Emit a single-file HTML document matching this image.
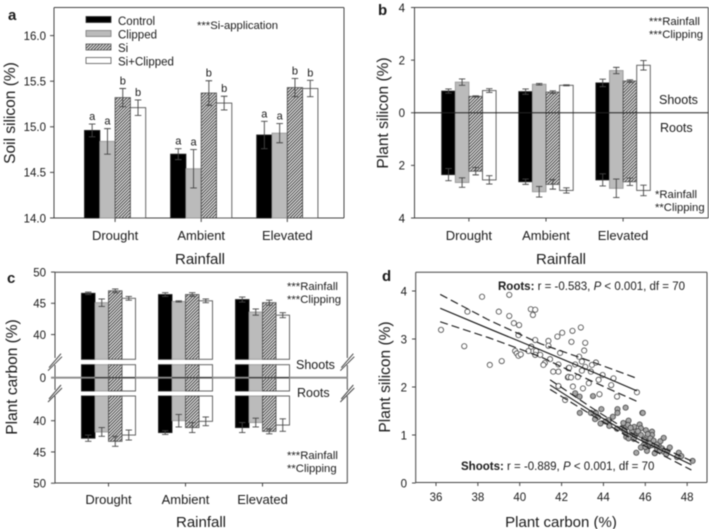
<!DOCTYPE html>
<html>
<head>
<meta charset="utf-8">
<style>
html,body{margin:0;padding:0;background:#fff;width:709px;height:529px;overflow:hidden}
svg{display:block;filter:blur(0.4px)}
text{font-family:"Liberation Sans",sans-serif;fill:#1a1a1a}
</style>
</head>
<body>
<svg id="fig" width="709" height="529" viewBox="0 0 709 529" xmlns="http://www.w3.org/2000/svg">
<defs>
<pattern id="hatch" patternUnits="userSpaceOnUse" width="2.2" height="2.2" patternTransform="rotate(45)">
<rect width="2.2" height="2.2" fill="#e6e6e6"/>
<rect width="0.9" height="2.2" fill="#333"/>
</pattern>
</defs>

<g>
<text x="8" y="20" font-size="15" font-weight="bold">a</text>
<text transform="translate(15 113) rotate(-90)" font-size="15.5" text-anchor="middle">Soil silicon (%)</text>
<text x="200" y="264" font-size="15" text-anchor="middle">Rainfall</text>
<text x="197" y="29" font-size="11.3">***Si-application</text>
<g>
<rect x="86" y="16.5" width="25" height="6" fill="#000" stroke="#333" stroke-width=".8"/>
<text x="118" y="25" font-size="11.5">Control</text>
<rect x="86" y="30.5" width="25" height="6" fill="#bbb" stroke="#777" stroke-width=".8"/>
<text x="118" y="38.5" font-size="11.5">Clipped</text>
<rect x="86" y="44" width="25" height="6" fill="url(#hatch)" stroke="#555" stroke-width=".8"/>
<text x="118" y="52" font-size="11.5">Si</text>
<rect x="86" y="57.5" width="25" height="6" fill="#fff" stroke="#555" stroke-width=".8"/>
<text x="118" y="65.5" font-size="11.5">Si+Clipped</text>
</g>
</g>

<g>
<text x="378" y="15" font-size="15" font-weight="bold">b</text>
<text transform="translate(388 113) rotate(-90)" font-size="15.5" text-anchor="middle">Plant silicon (%)</text>
<text x="561" y="264" font-size="15" text-anchor="middle">Rainfall</text>
<text x="649" y="25" font-size="11.3">***Rainfall</text>
<text x="649" y="38" font-size="11.3">***Clipping</text>
<text x="655" y="198" font-size="11.3">*Rainfall</text>
<text x="655" y="211" font-size="11.3">**Clipping</text>
<text x="659" y="104" font-size="12.5">Shoots</text>
<text x="660" y="132" font-size="12.5">Roots</text>
</g>

<g>
<text x="7" y="283" font-size="15" font-weight="bold">c</text>
<text transform="translate(17 377) rotate(-90)" font-size="15.5" text-anchor="middle">Plant carbon (%)</text>
<text x="201" y="527" font-size="15" text-anchor="middle">Rainfall</text>
<text x="287" y="290" font-size="11.3">***Rainfall</text>
<text x="287" y="303" font-size="11.3">***Clipping</text>
<text x="287" y="459" font-size="11.3">***Rainfall</text>
<text x="287" y="472" font-size="11.3">**Clipping</text>
<text x="296" y="369" font-size="12.5">Shoots</text>
<text x="297" y="397" font-size="12.5">Roots</text>
</g>

<g>
<text x="382" y="281" font-size="15" font-weight="bold">d</text>
<text transform="translate(390 377) rotate(-90)" font-size="15.5" text-anchor="middle">Plant silicon (%)</text>
<text x="561" y="527" font-size="15" text-anchor="middle">Plant carbon (%)</text>
<text x="498" y="290" font-size="11.5"><tspan font-weight="bold">Roots:</tspan> r = -0.583, <tspan font-style="italic">P</tspan> &lt; 0.001, df = 70</text>
<text x="461" y="470" font-size="11.5"><tspan font-weight="bold">Shoots:</tspan> r = -0.889, <tspan font-style="italic">P</tspan> &lt; 0.001, df = 70</text>
</g>

<g id="marks"></g>
</svg>

<script>
const rainfallLevels = ['Drought', 'Ambient', 'Elevated'];
const treatments = ['control', 'clipped', 'si', 'si-clipped'];

const aTicks = ['14.0', '14.5', '15.0', '15.5', '16.0'];
const aValues = [[14.96, 14.70, 14.91], [14.84, 14.54, 14.93], [15.32, 15.37, 15.43], [15.21, 15.26, 15.42]];
const aErrors = [[0.07, 0.06, 0.15], [0.14, 0.21, 0.105], [0.10, 0.135, 0.10], [0.085, 0.075, 0.09]];
const aLetters = [['a', 'a', 'a'], ['a', 'a', 'a'], ['b', 'b', 'b'], ['b', 'b', 'b']];

const bTicks = [4, 2, 0, 2, 4];
const bShoots = [[0.82, 0.80, 1.13], [1.16, 1.08, 1.60], [0.62, 0.78, 1.20], [0.84, 1.04, 1.80]];
const bShootErrors = [[0.08, 0.10, 0.14], [0.12, 0.03, 0.12], [0.02, 0.05, 0.05], [0.07, 0.02, 0.18]];
const bRoots = [[2.35, 2.62, 2.55], [2.65, 3.00, 2.87], [2.22, 2.72, 2.62], [2.55, 2.95, 2.95]];
const bRootErrors = [[0.23, 0.10, 0.23], [0.18, 0.20, 0.35], [0.14, 0.18, 0.14], [0.16, 0.10, 0.20]];

const cShootTicks = [50, 45, 40];
const cRootTicks = [40, 45, 50];
const cShoots = [[46.6, 46.4, 45.6], [45.1, 45.3, 43.6], [47.0, 46.4, 45.1], [45.8, 45.4, 43.1]];
const cShootErrors = [[0.2, 0.3, 0.4], [0.6, 0.1, 0.5], [0.3, 0.3, 0.4], [0.3, 0.3, 0.4]];
const cRoots = [[42.8, 41.9, 41.1], [41.8, 40.0, 40.3], [43.3, 41.1, 41.7], [42.3, 40.1, 40.7]];
const cRootErrors = [[0.5, 0.3, 0.8], [0.7, 1.0, 0.7], [0.8, 0.8, 0.4], [0.8, 0.7, 1.0]];

const dXTicks = [36, 38, 40, 42, 44, 46, 48];
const dYTicks = [0, 1, 2, 3, 4];
const rootsCarbon = [36.24,37.35,37.5,38.2,39.5,39.0,39.5,40.53,40.74,40.63,39.72,39.97,39.94,40.74,41.37,41.37,41.8,42.03,40.55,40.42,40.78,40.74,40.98,39.78,39.86,39.94,40.05,39.14,38.57,41.2,41.13,41.45,41.93,42.33,41.85,41.6,41.85,42.3,41.85,42.52,42.92,42.47,43.13,43.08,42.84,42.65,42.97,43.13,43.45,43.64,42.36,42.97,43.4,43.77,42.33,42.45,42.78,43.3,43.02,42.54,42.17,43.81,44.48,44.37,44.65,43.96,45.6];
const rootsSilicon = [3.19,2.85,3.57,3.88,3.92,3.57,3.48,3.62,3.61,3.5,3.33,3.29,3.08,2.98,2.96,2.86,3.05,3.13,2.84,2.75,2.75,2.67,2.67,2.75,2.7,2.65,2.68,2.54,2.46,2.5,2.46,2.58,2.71,2.39,2.47,2.32,2.32,2.2,2.02,3.17,3.24,2.94,2.92,2.76,2.63,2.47,2.53,2.42,2.46,2.51,2.4,2.34,2.32,2.15,2.21,2.2,2.21,2.08,1.97,2.01,1.73,1.85,2.18,2.04,1.8,2.25,1.89];
const shootsCarbon = [42.65,42.86,43.5,42.87,43.4,43.64,43.74,43.9,43.86,44.25,44.28,44.67,44.67,45.06,45.86,45.88,44.65,44.88,45.09,45.2,45.17,45.04,45.09,45.2,45.47,45.73,45.79,46.03,45.36,45.6,45.79,46.32,46.32,46.08,46.24,46.0,45.92,46.16,46.08,45.79,45.57,46.4,46.64,46.72,46.88,46.32,46.56,46.8,46.45,46.88,47.07,47.17,47.52,47.6,47.72,48.26,44.1,45.0,45.5,45.95,46.2,46.55,46.0,45.3,44.95,46.7,47.0,45.65,46.12,45.45,43.6,44.45];
const shootsSilicon = [1.87,1.8,1.81,1.46,1.46,1.46,1.37,1.54,1.24,1.31,1.19,1.54,1.46,1.57,1.46,1.46,1.13,1.14,1.16,1.3,1.21,1.05,0.96,0.93,1.17,1.22,1.14,1.1,1.07,1.03,1.0,1.07,1.0,0.96,0.93,0.86,0.79,0.76,0.67,0.74,0.63,0.88,0.79,0.87,0.94,0.79,0.72,0.72,0.62,0.65,0.67,0.74,0.54,0.63,0.56,0.46,1.28,1.1,0.98,0.9,0.82,0.8,0.75,1.15,1.25,0.68,0.6,1.08,1.02,0.92,1.33,1.38];

const rootsFitCarbon = [36.2, 38.5, 41.0, 43.3, 45.6];
const rootsFit = [3.64, 3.22, 2.77, 2.35, 1.92];
const rootsUpper = [3.93, 3.40, 2.90, 2.55, 2.18];
const rootsLower = [3.36, 3.03, 2.63, 2.15, 1.70];
const shootsFitCarbon = [41.45, 43.5, 45.5, 48.2];
const shootsFit = [2.04, 1.47, 0.95, 0.38];
const shootsUpper = [2.15, 1.55, 1.00, 0.46];
const shootsLower = [1.95, 1.40, 0.88, 0.27];

const marks = document.getElementById('marks');
const NS = 'http://www.w3.org/2000/svg';
const fills = ['#000', '#bbb', 'url(#hatch)', '#fff'];
const strokes = ['#222', '#999', '#555', '#555'];

function svgEl(tag, props) {
  const el = document.createElementNS(NS, tag);
  for (const k in props) el.setAttribute(k, props[k]);
  marks.appendChild(el);
  return el;
}
function frameLine(x1, y1, x2, y2, name, color, width) {
  const l = svgEl('line', {x1: x1, y1: y1, x2: x2, y2: y2, stroke: color || '#444', 'stroke-width': width || 1});
  
  
  return l;
}
function label(x, y, str, size, anchor, name) {
  const t = svgEl('text', {x: x, y: y, 'font-size': size, 'text-anchor': anchor});
  t.textContent = str;
  
  
  return t;
}
function box(l, t, r, b, name) {
  frameLine(l, t, r, t, name + '-top');
  frameLine(l, b, r, b, name + '-bottom');
  frameLine(l, t, l, b, name + '-left');
  frameLine(r, t, r, b, name + '-right');
}
function barRect(x, top, w, bottom, s, name) {
  const r = svgEl('rect', {x: x, y: Math.min(top, bottom), width: w, height: Math.abs(bottom - top), fill: fills[s], stroke: strokes[s], 'stroke-width': 0.9});
  
  
}
function errorBar(cx, y1, y2, cap, name) {
  const p = svgEl('path', {d: 'M' + (cx - cap) + ' ' + y1 + 'H' + (cx + cap) + 'M' + (cx - cap) + ' ' + y2 + 'H' + (cx + cap) + 'M' + cx + ' ' + y1 + 'V' + y2, fill: 'none', stroke: '#444', 'stroke-width': 0.9});
  
  
}

/* Panel a */
const aY = v => 218 - (v - 14) * 91.2;
const aX = (g, s) => 84.5 + g * 86.1 + s * 15.3;
box(54, 7.5, 344, 218, 'panel-a-frame');
aTicks.forEach(t => {
  frameLine(50, aY(+t), 54, aY(+t), 'panel-a-y-tick');
  label(46, aY(+t) + 4.3, t, 11.5, 'end', 'panel-a-y-tick-label');
});
rainfallLevels.forEach((name, g) => {
  frameLine(aX(g, 2), 218, aX(g, 2), 222, 'panel-a-x-tick');
  label(aX(g, 2), 240, name, 13, 'middle', 'panel-a-category-' + name.toLowerCase());
  treatments.forEach((tr, s) => {
    barRect(aX(g, s), aY(aValues[s][g]), 15.3, 218, s, 'bar-a-' + name.toLowerCase() + '-' + tr);
    const cx = aX(g, s) + 7.65;
    errorBar(cx, aY(aValues[s][g] + aErrors[s][g]), aY(aValues[s][g] - aErrors[s][g]), 3.3, 'error-bar-a');
    label(cx, aY(aValues[s][g] + aErrors[s][g]) - 4, aLetters[s][g], 11, 'middle', 'significance-letter');
  });
});

/* Panel b */
const bYUp = v => 112.7 - v * 26.35;
const bYDown = v => 112.7 + v * 26.35;
const bX = (g, s) => 441.7 + g * 77.1 + s * 13.6;
box(414.5, 7.5, 708.3, 218, 'panel-b-frame');
bTicks.forEach((t, i) => {
  const y = 7.5 + i * 52.63;
  frameLine(411, y, 414.5, y, 'panel-b-y-tick');
  label(405, y + 4.3, String(t), 11.5, 'end', 'panel-b-y-tick-label');
});
rainfallLevels.forEach((name, g) => {
  frameLine(bX(g, 2), 218, bX(g, 2), 221.5, 'panel-b-x-tick');
  label(bX(g, 2), 240, name, 13, 'middle', 'panel-b-category-' + name.toLowerCase());
  treatments.forEach((tr, s) => {
    barRect(bX(g, s), bYUp(bShoots[s][g]), 13.6, bYDown(bRoots[s][g]), s, 'bar-b-' + name.toLowerCase() + '-' + tr);
  });
  treatments.forEach((tr, s) => {
    const cx = bX(g, s) + 6.8;
    errorBar(cx, bYUp(bShoots[s][g] + bShootErrors[s][g]), bYUp(bShoots[s][g] - bShootErrors[s][g]), 3.2, 'error-bar-b-shoots');
    errorBar(cx, bYDown(bRoots[s][g] + bRootErrors[s][g]), bYDown(bRoots[s][g] - bRootErrors[s][g]), 3.2, 'error-bar-b-roots');
  });
});
frameLine(414.5, 112.7, 708.3, 112.7, 'panel-b-zero-line', '#222', 1);

/* Panel c */
const cYUp = v => 303.3 + (45 - v) * 6.25;
const cYDown = v => 420.7 + (v - 40) * 6.25;
const cX = (g, s) => 81.5 + g * 77 + s * 13.5;
frameLine(55, 272.3, 347.3, 272.3, 'panel-c-frame-top');
frameLine(55, 483, 347.3, 483, 'panel-c-frame-bottom');
frameLine(55, 272.3, 55, 358, 'panel-c-frame-left-upper');
frameLine(55, 365, 55, 390, 'panel-c-frame-left-middle');
frameLine(55, 396, 55, 483, 'panel-c-frame-left-lower');
frameLine(347.3, 272.3, 347.3, 358, 'panel-c-frame-right-upper');
frameLine(347.3, 365, 347.3, 390, 'panel-c-frame-right-middle');
frameLine(347.3, 396, 347.3, 483, 'panel-c-frame-right-lower');
[55, 347.3].forEach(x => {
  [361.7, 393].forEach(y => {
    frameLine(x - 6, y + 6, x + 6, y - 8, 'axis-break-mark');
    frameLine(x - 7, y + 9, x + 7, y - 5, 'axis-break-mark');
  });
});
cShootTicks.forEach(t => {
  frameLine(51, cYUp(t), 55, cYUp(t), 'panel-c-y-tick');
  label(46, cYUp(t) + 4.3, String(t), 11.5, 'end', 'panel-c-y-tick-label');
});
cRootTicks.forEach(t => {
  frameLine(51, cYDown(t), 55, cYDown(t), 'panel-c-y-tick');
  label(46, cYDown(t) + 4.3, String(t), 11.5, 'end', 'panel-c-y-tick-label');
});
label(46, 382, '0', 11.5, 'end', 'panel-c-y-tick-label-zero');
rainfallLevels.forEach((name, g) => {
  frameLine(cX(g, 2), 483, cX(g, 2), 486.5, 'panel-c-x-tick');
  label(cX(g, 2), 504, name, 13, 'middle', 'panel-c-category-' + name.toLowerCase());
  treatments.forEach((tr, s) => {
    const x = cX(g, s);
    barRect(x, cYUp(cShoots[s][g]), 13.5, 359.3, s, 'bar-c-shoots-' + name.toLowerCase() + '-' + tr);
    barRect(x, 364.7, 13.5, 391, s, 'bar-c-middle-' + name.toLowerCase() + '-' + tr);
    barRect(x, 396, 13.5, cYDown(cRoots[s][g]), s, 'bar-c-roots-' + name.toLowerCase() + '-' + tr);
  });
  treatments.forEach((tr, s) => {
    const cx = cX(g, s) + 6.75;
    errorBar(cx, cYUp(cShoots[s][g] + cShootErrors[s][g]), cYUp(cShoots[s][g] - cShootErrors[s][g]), 3.2, 'error-bar-c-shoots');
    errorBar(cx, cYDown(cRoots[s][g] + cRootErrors[s][g]), cYDown(cRoots[s][g] - cRootErrors[s][g]), 3.2, 'error-bar-c-roots');
  });
});
frameLine(51, 377.7, 348, 377.7, 'panel-c-zero-line', '#888', 1.8);
frameLine(95, 377.7, 135, 377.7, 'panel-c-zero-line-inner', '#222', 0.9);
frameLine(172, 377.7, 212, 377.7, 'panel-c-zero-line-inner', '#222', 0.9);
frameLine(249, 377.7, 289, 377.7, 'panel-c-zero-line-inner', '#222', 0.9);

/* Panel d */
const dX = v => 436 + (v - 36) * 20.93;
const dY = v => 483 - v * 48;
box(415.7, 272.3, 707, 482.5, 'panel-d-frame');
dXTicks.forEach(t => {
  frameLine(dX(t), 482.5, dX(t), 486, 'panel-d-x-tick');
  label(dX(t), 501, String(t), 11.5, 'middle', 'panel-d-x-tick-label');
});
dYTicks.forEach(t => {
  frameLine(412, dY(t), 415.7, dY(t), 'panel-d-y-tick');
  label(407, dY(t) + 4.3, String(t), 11.5, 'end', 'panel-d-y-tick-label');
});
function fitLine(xs, ys, dashed, name) {
  const d = xs.map((x, i) => (i ? 'L' : 'M') + dX(x) + ' ' + dY(ys[i])).join('');
  const p = svgEl('path', {d: d, fill: 'none', stroke: '#111', 'stroke-width': 1.1});
  if (dashed) p.setAttribute('stroke-dasharray', '8 4');
  
  
}
rootsCarbon.forEach((x, i) => {
  const c = svgEl('circle', {cx: dX(x), cy: dY(rootsSilicon[i]), r: 2.6, fill: '#fff', stroke: '#444', 'stroke-width': 0.8});
  
  
});
shootsCarbon.forEach((x, i) => {
  const c = svgEl('circle', {cx: dX(x), cy: dY(shootsSilicon[i]), r: 2.6, fill: '#a8a8a8', stroke: '#444', 'stroke-width': 0.8});
  
  
});
fitLine(rootsFitCarbon, rootsFit, false, 'roots-regression-line');
fitLine(rootsFitCarbon, rootsUpper, true, 'roots-upper-confidence-line');
fitLine(rootsFitCarbon, rootsLower, true, 'roots-lower-confidence-line');
fitLine(shootsFitCarbon, shootsFit, false, 'shoots-regression-line');
fitLine(shootsFitCarbon, shootsUpper, true, 'shoots-upper-confidence-line');
fitLine(shootsFitCarbon, shootsLower, true, 'shoots-lower-confidence-line');
</script>
</body>
</html>
